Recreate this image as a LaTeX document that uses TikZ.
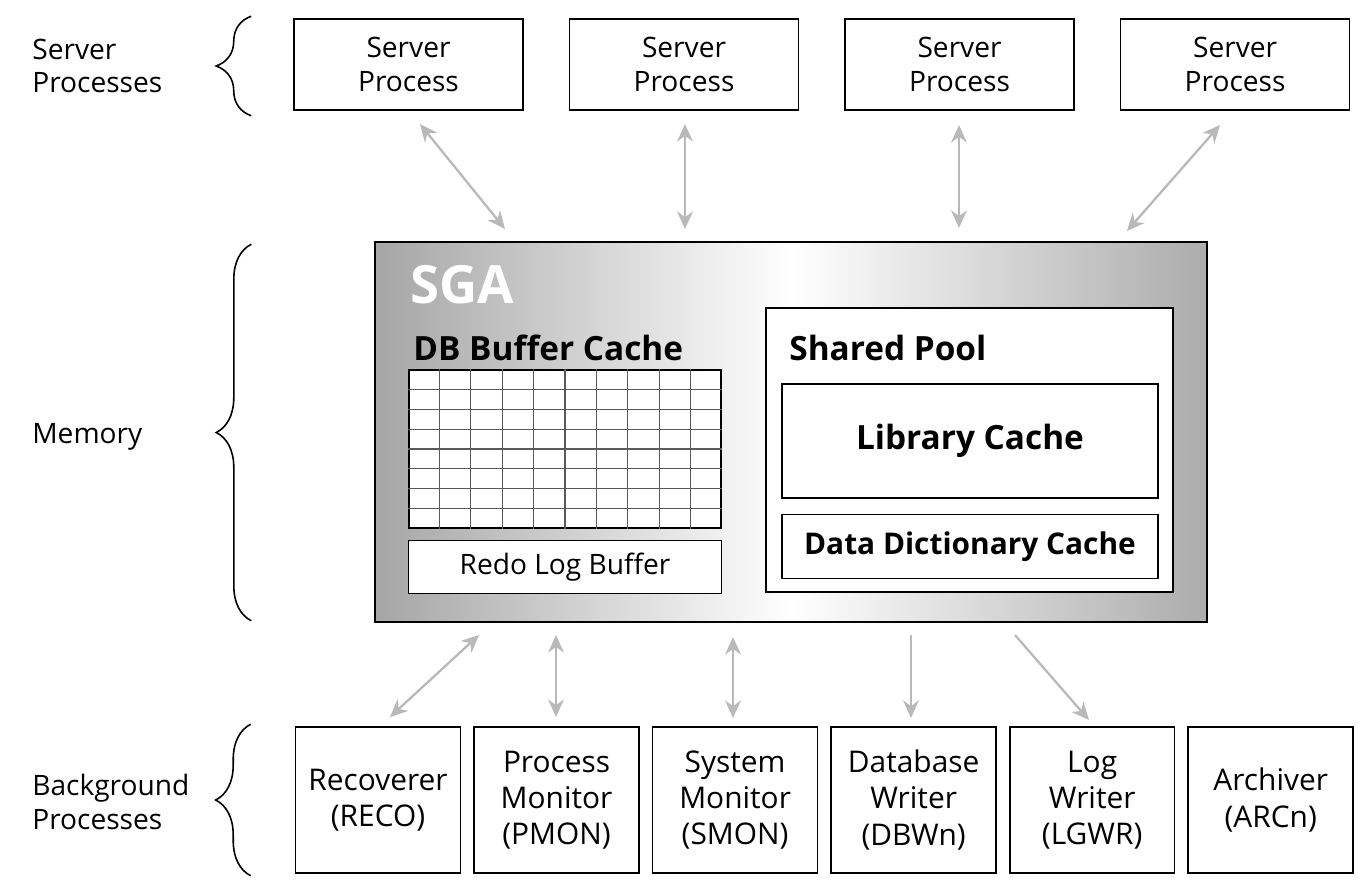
\documentclass[tikz,border=0pt]{standalone}
\usepackage{fontspec}
\setmainfont{Open Sans}
\usetikzlibrary{arrows.meta, positioning, calc, decorations.pathreplacing}

\begin{document}
\begin{tikzpicture}[x=0.02cm, y=-0.02cm, node distance=0.9cm,
    >={Stealth[length=10pt, width=9pt]},
    box/.style={draw, line width=0.9pt, fill=white, align=center, inner sep=0pt, font=\fontsize{16}{19}\selectfont},
    proc/.style={box, minimum width=4.58cm, minimum height=1.82cm},
    bgproc/.style={box, minimum width=3.3cm, minimum height=2.92cm, font=\fontsize{17}{20.5}\selectfont},
    title/.style={anchor=west, inner sep=0pt, font=\bfseries\fontsize{19}{22}\selectfont},
    side/.style={anchor=west, align=left, inner sep=0pt, font=\fontsize{16}{19}\selectfont},
    grp/.style={decorate, decoration={brace, amplitude=0.7cm}, line width=0.9pt},
    link/.style={draw=gray!55, line width=1.3pt},
    cell/.style={draw=gray!70!black, line width=0.6pt}]
    \useasboundingbox (0,0) rectangle (1370,896);

    % server processes
    \node[proc] (sp1) at (408.5,64.5) {Server\\Process};
    \node[proc, right=of sp1] (sp2) {Server\\Process};
    \node[proc, right=of sp2] (sp3) {Server\\Process};
    \node[proc, right=of sp3] (sp4) {Server\\Process};

    % SGA
    \node[draw, line width=0.9pt, inner sep=0pt, minimum width=16.64cm, minimum height=7.6cm,
        left color=gray!70, right color=gray!65, middle color=white] (sga) at (791,432) {};
    \node[title, text=white, font=\bfseries\fontsize{30}{32}\selectfont] (sgatitle) at (410,285) {SGA};

    \node[title] (dbtitle) at (413,348) {DB Buffer Cache};
    \node[draw, line width=0.9pt, fill=white, inner sep=0pt, minimum width=6.24cm, minimum height=3.16cm] (bufgrid) at (565,449) {};
    \foreach \i in {1,...,9}
        \draw[cell] ($(bufgrid.north west)!\i/10!(bufgrid.north east)$) -- ($(bufgrid.south west)!\i/10!(bufgrid.south east)$);
    \foreach \j in {1,...,7}
        \draw[cell] ($(bufgrid.north west)!\j/8!(bufgrid.south west)$) -- ($(bufgrid.north east)!\j/8!(bufgrid.south east)$);
    \node[box, minimum width=6.26cm, minimum height=1.06cm, below=0.22cm of bufgrid] (redo) {Redo Log Buffer};

    \node[box, minimum width=8.14cm, minimum height=5.68cm] (pool) at (969.5,450) {};
    \node[title] (pooltitle) at (789,348) {Shared Pool};
    \node[box, minimum width=7.52cm, minimum height=2.28cm, font=\bfseries\fontsize{19}{22}\selectfont] (libcache) at (970,441) {Library Cache};
    \node[box, minimum width=7.52cm, minimum height=1.28cm, font=\bfseries\fontsize{17}{20}\selectfont, below=0.3cm of libcache] (ddcache) {Data Dictionary Cache};

    % background processes
    \node[bgproc] (reco) at (378,800) {Recoverer\\(RECO)};
    \node[bgproc, right=0.24cm of reco] (pmon) {Process\\Monitor\\(PMON)};
    \node[bgproc, right=0.24cm of pmon] (smon) {System\\Monitor\\(SMON)};
    \node[bgproc, right=0.24cm of smon] (dbwn) {Database\\Writer\\(DBWn)};
    \node[bgproc, right=0.24cm of dbwn] (lgwr) {Log\\Writer\\(LGWR)};
    \node[bgproc, right=0.24cm of lgwr] (arcn) {Archiver\\(ARCn)};

    % left labels
    \node[side] (lblsp) at (32,66) {Server\\Processes};
    \node[side] (lblmem) at (32,437) {Memory};
    \node[side] (lblbg) at (32,802) {Background\\Processes};
    \draw[grp] ($(sp1.south west)+(-42,5)$) -- ($(sp1.north west)+(-42,-2)$);
    \draw[grp] ($(sga.south west)+(-123,-2)$) -- ($(sga.north west)+(-123,3)$);
    \draw[grp] ($(reco.south west)+(-44,2)$) -- ($(reco.north west)+(-44,-2)$);

    % connectors
    \coordinate (t1a) at (420,124);  \coordinate (t1b) at (505,229);
    \coordinate (t2a) at (685,124);  \coordinate (t2b) at (685,229);
    \coordinate (t3a) at (959,125);  \coordinate (t3b) at (959,228);
    \coordinate (t4a) at (1220,125); \coordinate (t4b) at (1127,231);
    \draw[link, <->] (t1a) -- (t1b);
    \draw[link, <->] (t2a) -- (t2b);
    \draw[link, <->] (t3a) -- (t3b);
    \draw[link, <->] (t4a) -- (t4b);

    \coordinate (b1a) at (479,635);  \coordinate (b1b) at (390,717);
    \coordinate (b2a) at (556,635);  \coordinate (b2b) at (556,717);
    \coordinate (b3a) at (733,637);  \coordinate (b3b) at (733,718);
    \coordinate (b4a) at (911,635);  \coordinate (b4b) at (911,718);
    \coordinate (b5a) at (1015,635); \coordinate (b5b) at (1089,720);
    \draw[link, <->] (b1a) -- (b1b);
    \draw[link, <->] (b2a) -- (b2b);
    \draw[link, <->] (b3a) -- (b3b);
    \draw[link, ->] (b4a) -- (b4b);
    \draw[link, ->] (b5a) -- (b5b);
\end{tikzpicture}
\end{document}
